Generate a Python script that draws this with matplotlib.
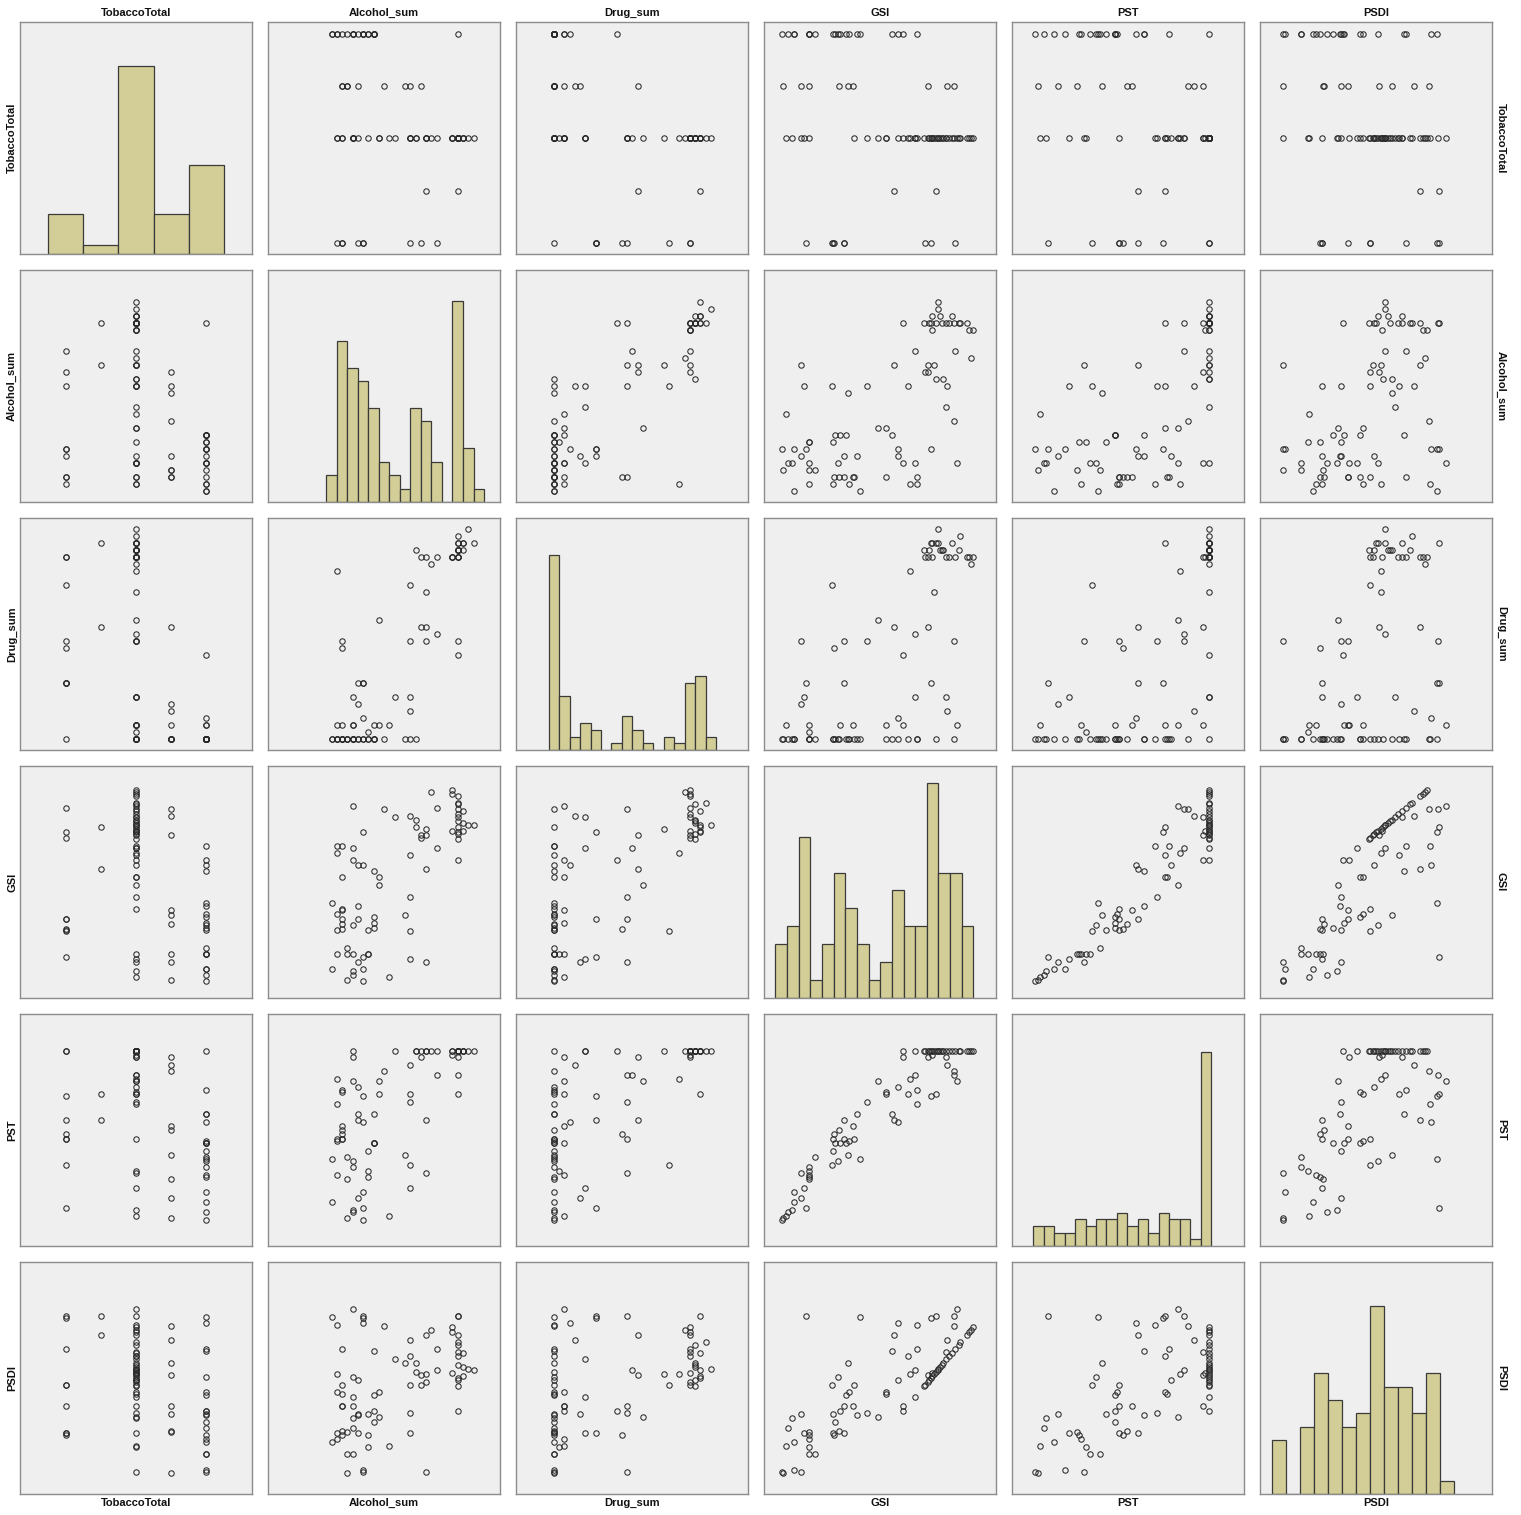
import numpy as np
import matplotlib
matplotlib.use("Agg")
import matplotlib.pyplot as plt

variables = ["TobaccoTotal", "Alcohol_sum", "Drug_sum", "GSI", "PST", "PSDI"]

tobacco_total = [4, 3, 2, 4, 2, 4, 4, 3, 2, 2,
                 0, 3, 4, 4, 2, 4, 4, 0, 4, 0,
                 0, 4, 4, 3, 4, 0, 0, 4, 3, 4,
                 3, 2, 4, 4, 2, 2, 2, 2, 4, 1,
                 4, 2, 4, 2, 2, 2, 2, 2, 4, 2,
                 2, 0, 3, 2, 2, 0, 2, 2, 2, 2,
                 1, 2, 2, 2, 2, 2, 2, 2, 2, 3,
                 2, 2, 3, 2, 0, 2, 2, 2, 2, 2,
                 2, 2]

alcohol_sum = [7, 4, 12, 5, 5, 7, 1, 6, 19, 16,
               7, 4, 2, 8, 8, 5, 4, 16, 8, 2,
               3, 9, 5, 3, 9, 6, 3, 9, 15, 2,
               3, 3, 6, 1, 16, 10, 3, 10, 9, 19,
               7, 6, 25, 5, 16, 2, 21, 5, 3, 2,
               25, 18, 18, 19, 25, 7, 25, 24, 26, 19,
               25, 17, 28, 27, 26, 25, 17, 25, 13, 16,
               25, 26, 11, 25, 21, 5, 25, 25, 25, 24,
               20, 24]

drug_sum = [1, 1, 3, 1, 1, 1, 1, 6, 15, 7,
            9, 1, 3, 1, 2, 1, 1, 23, 1, 1,
            14, 1, 1, 1, 3, 9, 15, 1, 1, 1,
            3, 1, 1, 1, 15, 18, 1, 3, 1, 17,
            4, 1, 13, 3, 1, 25, 16, 7, 1, 1,
            28, 27, 17, 27, 28, 9, 29, 27, 29, 22,
            29, 1, 29, 31, 28, 28, 28, 27, 7, 5,
            27, 29, 1, 15, 27, 3, 28, 30, 27, 27,
            26, 27]

gsi = [0.11, 0.12, 0.17, 0.22, 0.28, 0.31, 0.32, 0.43, 0.44, 0.48,
       0.52, 0.57, 0.58, 0.58, 0.58, 0.58, 0.67, 0.97, 0.98, 0.98,
       1.01, 1.02, 1.07, 1.08, 1.10, 1.17, 1.18, 1.21, 1.25, 1.26,
       1.33, 1.34, 1.40, 1.45, 1.56, 1.76, 1.89, 1.89, 2.00, 2.04,
       2.10, 2.10, 2.19, 2.19, 2.27, 2.30, 2.39, 2.39, 2.43, 2.43,
       2.55, 2.57, 2.61, 2.61, 2.63, 2.66, 2.66, 2.68, 2.69, 2.72,
       2.75, 2.75, 2.78, 2.79, 2.82, 2.85, 2.88, 2.93, 2.93, 2.95,
       2.97, 3.02, 3.07, 3.07, 3.08, 3.11, 3.14, 3.17, 3.28, 3.32,
       3.35, 3.39]

pst = [7, 8, 9, 11, 12, 21, 16, 18, 30, 23,
       13, 27, 29, 28, 31, 33, 38, 34, 41, 47,
       49, 45, 36, 51, 45, 56, 47, 45, 39, 46,
       53, 47, 59, 37, 65, 75, 70, 69, 59, 56,
       55, 72, 90, 87, 69, 76, 78, 90, 71, 64,
       90, 90, 87, 90, 90, 68, 90, 88, 90, 90,
       69, 90, 90, 90, 90, 90, 90, 87, 90, 83,
       90, 90, 80, 78, 90, 75, 90, 90, 90, 90,
       90, 90]

psdi = [1.33, 1.32, 1.70, 1.95, 2.10, 1.35, 1.76, 2.15, 1.33, 1.88,
        3.55, 1.90, 1.80, 1.86, 1.68, 1.59, 1.59, 2.57, 2.15, 1.88,
        1.86, 2.04, 2.68, 1.91, 2.20, 1.88, 2.26, 2.42, 2.88, 2.47,
        2.26, 2.57, 2.14, 3.53, 2.16, 2.11, 2.43, 2.47, 3.05, 3.28,
        3.44, 2.63, 2.19, 2.27, 2.98, 2.72, 2.78, 2.39, 3.08, 3.42,
        2.55, 2.57, 2.70, 2.61, 2.63, 3.52, 2.66, 2.74, 2.69, 2.72,
        3.55, 2.75, 2.78, 2.79, 2.82, 2.85, 2.88, 3.03, 2.93, 3.20,
        2.97, 3.02, 3.41, 3.54, 3.08, 3.65, 3.14, 3.17, 3.28, 3.32,
        3.35, 3.39]

data = {
    "TobaccoTotal": np.array(tobacco_total, dtype=float),
    "Alcohol_sum": np.array(alcohol_sum, dtype=float),
    "Drug_sum": np.array(drug_sum, dtype=float),
    "GSI": np.array(gsi),
    "PST": np.array(pst, dtype=float),
    "PSDI": np.array(psdi),
}

# histogram bin edges for the diagonal panels
hist_bins = {
    "TobaccoTotal": np.arange(-0.5, 4.6, 1.0),
    "Alcohol_sum": np.arange(0, 31, 2),
    "Drug_sum": np.arange(0, 33, 2),
    "GSI": np.arange(18) * 0.2 - 0.005,
    "PST": np.arange(6, 92, 5),
    "PSDI": 1.165 + 0.2 * np.arange(14),
}

# axis ranges when a variable is on the horizontal axis
x_range = {
    "TobaccoTotal": (-1.314, 5.314),
    "Alcohol_sum": (-11.09, 33.04),
    "Drug_sum": (-6.25, 38.12),
    "GSI": (-0.20, 3.783),
    "PST": (-4.21, 106.79),
    "PSDI": (0.998, 4.313),
}

# axis ranges when a variable is on the vertical axis
y_range = {
    "TobaccoTotal": (-0.21, 4.223),
    "Alcohol_sum": (-0.57, 32.62),
    "Drug_sum": (-0.57, 32.62),
    "GSI": (-0.182, 3.80),
    "PST": (-5.6, 107.96),
    "PSDI": (1.015, 4.313),
}

# share of the panel height taken by the tallest histogram bar
hist_peak = {
    "TobaccoTotal": 0.81,
    "Alcohol_sum": 0.868,
    "Drug_sum": 0.839,
    "GSI": 0.927,
    "PST": 0.837,
    "PSDI": 0.81,
}

W, H = 1521, 1515
panel_bg = "#EFEFEF"
frame_col = "#8C8C8C"
bar_face = "#D3CE97"
bar_edge = "#3A3A3A"
label_font = dict(family=["Liberation Sans", "DejaVu Sans"], fontsize=8,
                  fontweight="bold", color="#111111")

fig = plt.figure(figsize=(W / 100, H / 100), dpi=100)
fig.patch.set_facecolor("white")

x0, y0, size, step = 20, 22, 232, 248
n = len(variables)

for i, yv in enumerate(variables):
    for j, xv in enumerate(variables):
        left = (x0 + step * j) / W
        bottom = 1 - (y0 + step * i + size) / H
        ax = fig.add_axes([left, bottom, size / W, size / H])
        ax.set_facecolor(panel_bg)
        for sp in ax.spines.values():
            sp.set_color(frame_col)
            sp.set_linewidth(1.0)
        ax.set_xticks([])
        ax.set_yticks([])
        ax.set_xlim(*x_range[xv])
        if i == j:
            counts, edges, _ = ax.hist(data[xv], bins=hist_bins[xv],
                                       color=bar_face, edgecolor=bar_edge,
                                       linewidth=0.9)
            ax.set_ylim(0, counts.max() / hist_peak[xv])
        else:
            ax.plot(data[xv], data[yv], linestyle="none", marker="o",
                    markersize=3.9, markerfacecolor="none",
                    markeredgecolor="#2A2A2A", markeredgewidth=0.75)
            ax.set_ylim(*y_range[yv])

# variable names around the matrix
for k, name in enumerate(variables):
    cx = (x0 + step * k + size / 2) / W
    cy = 1 - (y0 + step * k + size / 2) / H
    fig.text(cx, 1 - 13 / H, name, ha="center", va="center", **label_font)
    fig.text(cx, 1 - 1503 / H, name, ha="center", va="center", **label_font)
    fig.text(12 / W, cy, name, ha="center", va="center", rotation=90, **label_font)
    fig.text(1501 / W, cy, name, ha="center", va="center", rotation=270, **label_font)

fig.savefig("out.png", dpi=100, facecolor="white")
